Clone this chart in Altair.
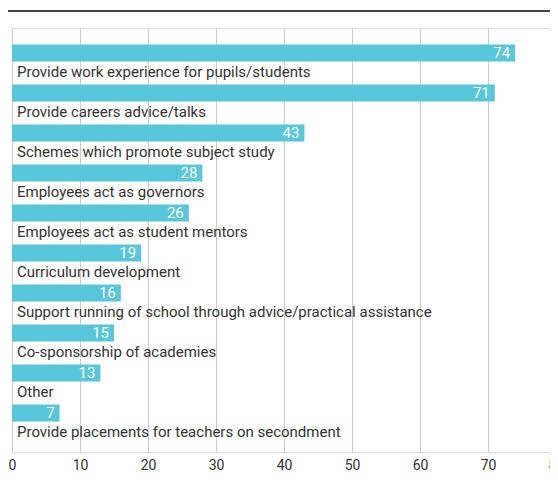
import altair as alt
import pandas as pd

categories = [
    "Provide work experience for pupils/students",
    "Provide careers advice/talks",
    "Schemes which promote subject study",
    "Employees act as governors",
    "Employees act as student mentors",
    "Curriculum development",
    "Support running of school through advice/practical assistance",
    "Co-sponsorship of academies",
    "Other",
    "Provide placements for teachers on secondment",
]
values = [74, 71, 43, 28, 26, 19, 16, 15, 13, 7]
x_ticks = [0, 10, 20, 30, 40, 50, 60, 70, 80]

df = pd.DataFrame({"category": categories, "value": values})

FONT = "Roboto"
BAR = "#58c6db"
TXT = "#333333"

y_enc = alt.Y("category:N", sort=categories, axis=None,
              scale=alt.Scale(paddingInner=0, paddingOuter=0.3))
x_enc = alt.X("value:Q", scale=alt.Scale(domain=[0, 80], nice=False),
              axis=alt.Axis(values=x_ticks, grid=True, gridColor="#cccccc", gridWidth=1,
                            domain=False, ticks=False, labelPadding=6,
                            labelFontSize=14, labelColor=TXT, labelFont=FONT,
                            title=None, labelFlush=False))

base = alt.Chart(df)

bars = base.mark_bar(color=BAR, size=17, yOffset=-7).encode(x=x_enc, y=y_enc)

vals = base.mark_text(align="right", baseline="middle", dx=-5, yOffset=-7,
                      color="white", fontSize=15, font=FONT).encode(
    x="value:Q", y=alt.Y("category:N", sort=categories), text="value:Q")

labels = base.mark_text(align="left", baseline="middle", dx=5, yOffset=11.5,
                        color=TXT, fontSize=15, font=FONT).encode(
    x=alt.datum(0), y=alt.Y("category:N", sort=categories), text="category:N")

top_rule = base.mark_rule(color="#444444", strokeWidth=2).encode(
    x=alt.value(-4), x2=alt.value(552), y=alt.value(-17))

chart = alt.layer(bars, vals, labels, top_rule).properties(
    width=544, height=424,
    autosize=alt.AutoSizeParams(type="none"),
    padding={"left": 4, "top": 20, "right": -6, "bottom": 22},
).configure_view(stroke=None).configure(font=FONT)

chart.save("out.html", embed_options={"renderer": "svg", "actions": False})
